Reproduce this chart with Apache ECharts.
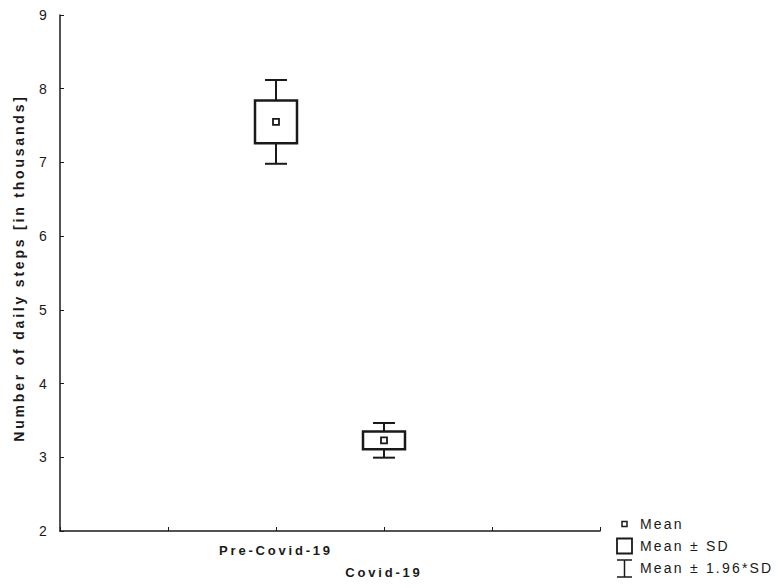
<!DOCTYPE html>
<html>
<head>
<meta charset="utf-8">
<title>Daily steps</title>
<script src="https://cdn.jsdelivr.net/npm/echarts@6/dist/echarts.min.js"></script>
<style>
  html, body { margin: 0; padding: 0; background: #fff; }
  #chart { width: 780px; height: 588px; }
  /* wide tracking for all chart text */
  #chart text { letter-spacing: 2.2px; }
  #chart text[style*="bold"] { letter-spacing: 2.8px; }
</style>
</head>
<body>
<div id="chart"></div>
<script>
// Groups, mean daily steps (thousands) and standard deviations
const categories = ['Pre-Covid-19', 'Covid-19'];
const means = [7.55, 3.23];
const sds = [0.29, 0.12];
const yTicks = [2, 3, 4, 5, 6, 7, 8, 9];
const legendLabels = ['Mean', 'Mean \u00b1 SD', 'Mean \u00b1 1.96*SD'];

const INK = '#1a1a1a';
const FONT = '"Liberation Sans", Arial, sans-serif';

// each group sits on the x axis at position index + 2
const seriesData = categories.map((c, i) => [i + 2, means[i], sds[i]]);

const chart = echarts.init(document.getElementById('chart'), null, { renderer: 'svg' });

function renderBox(params, api) {
  const x = api.value(0), m = api.value(1), sd = api.value(2);
  const c = api.coord([x, m]);
  const boxTop = api.coord([x, m + sd])[1];
  const boxBot = api.coord([x, m - sd])[1];
  const wTop = api.coord([x, m + 1.96 * sd])[1];
  const wBot = api.coord([x, m - 1.96 * sd])[1];
  const bw = 21, cw = 11, ms = 3;
  const lineStyle = { stroke: INK, lineWidth: 2, fill: null };
  return {
    type: 'group',
    children: [
      { type: 'line', shape: { x1: c[0], y1: wTop, x2: c[0], y2: boxTop }, style: lineStyle },
      { type: 'line', shape: { x1: c[0], y1: boxBot, x2: c[0], y2: wBot }, style: lineStyle },
      { type: 'line', shape: { x1: c[0] - cw, y1: wTop, x2: c[0] + cw, y2: wTop }, style: lineStyle },
      { type: 'line', shape: { x1: c[0] - cw, y1: wBot, x2: c[0] + cw, y2: wBot }, style: lineStyle },
      { type: 'rect', shape: { x: c[0] - bw, y: boxTop, width: 2 * bw, height: boxBot - boxTop },
        style: { stroke: INK, lineWidth: 2.5, fill: '#fff' } },
      { type: 'rect', shape: { x: c[0] - ms, y: c[1] - ms, width: 2 * ms, height: 2 * ms },
        style: { stroke: INK, lineWidth: 1.8, fill: '#fff' } }
    ]
  };
}

// legend drawn at the lower right
const lx = 624.5, tx = 640;
const rows = [524, 546, 568];
const legendGraphics = [
  { type: 'rect', shape: { x: lx - 2.5, y: rows[0] - 2.5, width: 5, height: 5 },
    style: { stroke: INK, lineWidth: 1.5, fill: '#fff' } },
  { type: 'rect', shape: { x: lx - 7.5, y: rows[1] - 7.5, width: 15, height: 15 },
    style: { stroke: INK, lineWidth: 1.8, fill: '#fff' } },
  { type: 'line', shape: { x1: lx - 7.5, y1: rows[2] - 8, x2: lx + 7.5, y2: rows[2] - 8 }, style: { stroke: INK, lineWidth: 1.5 } },
  { type: 'line', shape: { x1: lx, y1: rows[2] - 8, x2: lx, y2: rows[2] + 9 }, style: { stroke: INK, lineWidth: 1.5 } },
  { type: 'line', shape: { x1: lx - 7.5, y1: rows[2] + 9, x2: lx + 7.5, y2: rows[2] + 9 }, style: { stroke: INK, lineWidth: 1.5 } }
].concat(legendLabels.map((t, i) => ({
  type: 'text', x: tx, y: rows[i],
  style: { text: t, fill: INK, font: '14px ' + FONT, textVerticalAlign: 'middle', textAlign: 'left' }
})));

chart.setOption({
  animation: false,
  backgroundColor: '#fff',
  grid: { left: 60, right: 180, top: 15, bottom: 57, containLabel: false },
  xAxis: {
    type: 'value', min: 0, max: 5, interval: 1,
    axisLine: { lineStyle: { color: INK, width: 1.5 } },
    axisTick: { inside: true, length: 4, lineStyle: { color: INK, width: 1 } },
    splitLine: { show: false },
    axisLabel: {
      margin: 8,
      color: INK, fontFamily: FONT, fontSize: 13, fontWeight: 'bold', lineHeight: 22,
      formatter: function (v) {
        const i = v - 2;
        if (i >= 0 && i < categories.length && Number.isInteger(i)) {
          return (i % 2 === 1 ? '\n' : '') + categories[i];
        }
        return '';
      }
    }
  },
  yAxis: {
    type: 'value', min: yTicks[0], max: yTicks[yTicks.length - 1], interval: 1,
    name: 'Number of daily steps [in thousands]',
    nameLocation: 'middle', nameGap: 34, nameRotate: 90,
    nameTextStyle: { color: INK, fontFamily: FONT, fontSize: 14, fontWeight: 'bold', padding: [0, 0, 0, 10] },
    axisLine: { show: true, lineStyle: { color: INK, width: 1.5 } },
    axisTick: { show: true, inside: true, length: 4, lineStyle: { color: INK, width: 1 } },
    splitLine: { show: false },
    axisLabel: { margin: 11, color: INK, fontFamily: FONT, fontSize: 14 }
  },
  graphic: legendGraphics,
  series: [{
    type: 'custom',
    renderItem: renderBox,
    encode: { x: 0, y: [1] },
    data: seriesData,
    clip: false
  }]
});
</script>
</body>
</html>
